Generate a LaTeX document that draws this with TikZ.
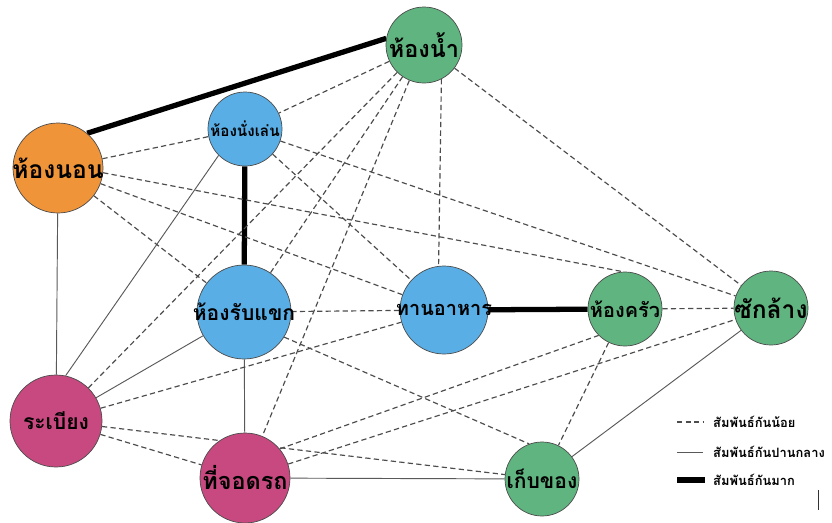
\documentclass[tikz,border=0pt]{standalone}
\usepackage{fontspec}
\newfontfamily\thaifont[Script=Thai]{Loma}
\usetikzlibrary{backgrounds}
\definecolor{roomgreen}{HTML}{5FB47F}
\definecolor{roomblue}{HTML}{5AAEE6}
\definecolor{roomorange}{HTML}{F0943A}
\definecolor{roompink}{HTML}{C8497F}

\begin{document}
\begin{tikzpicture}[
    x=0.03cm, y=-0.03cm,
    room/.style={circle, draw=black!70, line width=0.6pt, fill=#1, inner sep=0pt},
    rname/.style={font=\thaifont\bfseries\fontsize{#1}{#1}\selectfont, inner sep=0pt},
    weaklink/.style={draw=black!70, line width=1pt, dash pattern=on 4.5pt off 2.8pt},
    midlink/.style={draw=black!65, line width=0.8pt},
    stronglink/.style={draw=black, line width=4.5pt},
    keytext/.style={font=\thaifont\bfseries\fontsize{11}{11}\selectfont, anchor=west, inner sep=0pt},
  ]
  \useasboundingbox (0,0) rectangle (832,522);

  % rooms
  \node[room=roomgreen,  minimum size=2.28cm, label={[rname=20]center:ห้องน้ำ}]      (bath)    at (424,45)  {};
  \node[room=roomblue,   minimum size=2.22cm, label={[rname=13]center:ห้องนั่งเล่น}] (living)  at (245,129) {};
  \node[room=roomorange, minimum size=2.7cm,  label={[rname=21]center:ห้องนอน}]      (bed)     at (58,168)  {};
  \node[room=roomblue,   minimum size=2.82cm, label={[rname=18]center:ห้องรับแขก}]   (guest)   at (244,312) {};
  \node[room=roomblue,   minimum size=2.64cm, label={[rname=17]center:ทานอาหาร}]    (dining)  at (444,310) {};
  \node[room=roomgreen,  minimum size=2.22cm, label={[rname=17]center:ห้องครัว}]     (kitchen) at (625,309) {};
  \node[room=roomgreen,  minimum size=2.22cm, label={[rname=21]center:ซักล้าง}]      (laundry) at (771,308) {};
  \node[room=roompink,   minimum size=2.76cm, label={[rname=18]center:ระเบียง}]      (balcony) at (56,421)  {};
  \node[room=roompink,   minimum size=2.7cm,  label={[rname=20]center:ที่จอดรถ}]     (parking) at (245,478) {};
  \node[room=roomgreen,  minimum size=2.22cm, label={[rname=18]center:เก็บของ}]      (storage) at (542,479) {};

  \begin{scope}[on background layer]
    % strong
    \draw[stronglink] (bed.50) -- (bath.170);
    \draw[stronglink] (living) -- (guest);
    \draw[stronglink] (dining) -- (kitchen);
    % medium
    \draw[midlink] (bed) -- (balcony);
    \draw[midlink] (living.225) -- (balcony.78);
    \draw[midlink] (guest) -- (balcony);
    \draw[midlink] (guest) -- (parking);
    \draw[midlink] (parking) -- (storage);
    \draw[midlink] (storage) -- (laundry);
    % weak
    \draw[weaklink] (bath) -- (living);
    \draw[weaklink] (bath) -- (laundry);
    \draw[weaklink] (bath.-63) -- (dining.97);
    \draw[weaklink] (bath) -- (guest);
    \draw[weaklink] (bath) -- (balcony);
    \draw[weaklink] (bath) -- (parking);
    \draw[weaklink] (bed) -- (living);
    \draw[weaklink] (bed.-6) -- (kitchen.93);
    \draw[weaklink] (bed) -- (dining);
    \draw[weaklink] (bed) -- (guest);
    \draw[weaklink] (living) -- (dining);
    \draw[weaklink] (living) -- (laundry);
    \draw[weaklink] (guest) -- (dining);
    \draw[weaklink] (guest.-32) -- (storage.110);
    \draw[weaklink] (balcony) -- (dining);
    \draw[weaklink] (balcony) -- (storage);
    \draw[weaklink] (balcony) -- (parking);
    \draw[weaklink] (parking.40) -- (kitchen.225);
    \draw[weaklink] (parking) -- (laundry);
    \draw[weaklink] (kitchen) -- (storage);
    \draw[weaklink] (kitchen) -- (laundry);
  \end{scope}

  % key
  \coordinate (k1s) at (677,422); \coordinate (k1e) at (703,422);
  \coordinate (k2s) at (677,452); \coordinate (k2e) at (703,452);
  \coordinate (k3s) at (677,480); \coordinate (k3e) at (705,480);
  \node[keytext] (k1) at (713,422) {สัมพันธ์กันน้อย};
  \node[keytext] (k2) at (713,452) {สัมพันธ์กันปานกลาง};
  \node[keytext] (k3) at (713,480) {สัมพันธ์กันมาก};
  \draw[weaklink] (k1s) -- (k1e);
  \draw[midlink] (k2s) -- (k2e);
  \draw[stronglink] (k3s) -- (k3e);
  \draw[black!80, line width=0.8pt] (818,490) -- (818,510);
\end{tikzpicture}
\end{document}
